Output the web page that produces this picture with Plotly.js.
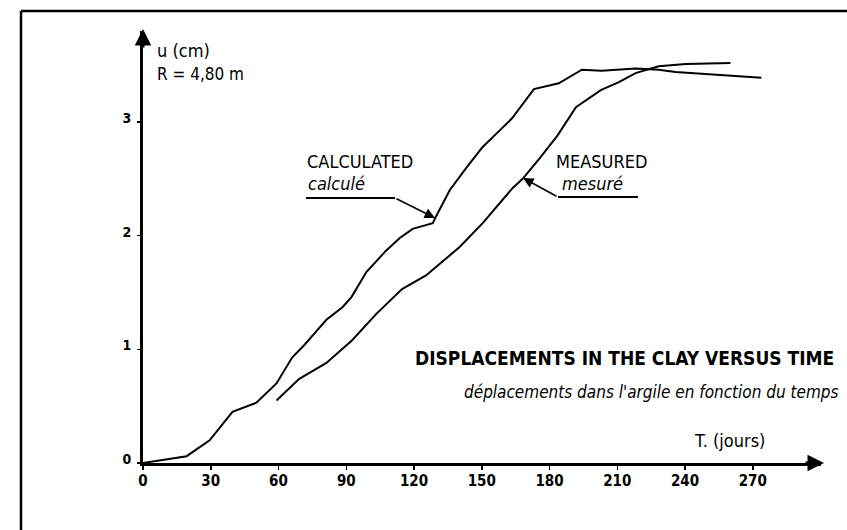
<!DOCTYPE html>
<html>
<head>
<meta charset="utf-8">
<script src="https://cdn.plot.ly/plotly-3.0.1.min.js"></script>
<style>html,body{margin:0;padding:0;background:#fff;}#chart{width:847px;height:530px;}</style>
</head>
<body>
<div id="chart"></div>
<script>
// ---- data ----
const calcDays = [0, 8.7, 19.3, 29.5, 39.6, 50.2, 59.1, 66.1, 70.6, 81.2, 88.3, 92.3, 98.9, 107.7, 113.7, 119.4, 128.3, 129.5, 135.8, 143.3, 150.4, 156.6, 163.3, 173.1, 184.1, 194.3, 203.1, 218.1, 228.3, 235.8, 260.5, 273.8];
const calcU    = [0, 0.03, 0.06, 0.20, 0.45, 0.53, 0.70, 0.93, 1.02, 1.26, 1.37, 1.46, 1.68, 1.87, 1.98, 2.06, 2.11, 2.16, 2.40, 2.60, 2.78, 2.90, 3.03, 3.29, 3.34, 3.46, 3.45, 3.47, 3.46, 3.44, 3.41, 3.39];
const measDays = [59.1, 69.2, 81.2, 92.6, 103.2, 114.7, 125.3, 128.3, 140.2, 150.4, 157.9, 163.7, 168.1, 175.6, 183.5, 191.7, 202.7, 210.7, 218.1, 228.3, 240.3, 260.1];
const measU    = [0.55, 0.74, 0.88, 1.08, 1.31, 1.53, 1.65, 1.70, 1.90, 2.11, 2.28, 2.42, 2.50, 2.68, 2.88, 3.13, 3.28, 3.35, 3.43, 3.49, 3.51, 3.52];
const xTicks = [0, 30, 60, 90, 120, 150, 180, 210, 240, 270];
const xTickLabels = ['0', '30', '60', '90', '120', '150', '180', '210', '240', '270'];
const yTicks = [0, 1, 2, 3];
const yTickLabels = ['0', '1', '2', '3'];

// ---- layout helpers (pixel -> paper) ----
const W = 847, H = 530, ML = 143, MR = 26, MT = 31, MB = 67;
const PW = W - ML - MR, PH = H - MT - MB;
const px = x => (x - ML) / PW;
const py = y => (H - MB - y) / PH;

const NARROW = 'DejaVu Sans Condensed, Liberation Sans Narrow, sans-serif';

const lineStyle = {color: '#000', width: 2};
const traces = [
  {x: calcDays, y: calcU, mode: 'lines', line: lineStyle, name: 'CALCULATED', hoverinfo: 'skip', cliponaxis: false},
  {x: measDays, y: measU, mode: 'lines', line: lineStyle, name: 'MEASURED', hoverinfo: 'skip', cliponaxis: false}
];

function txt(x, y, text, size, opts) {
  return Object.assign({xref: 'paper', yref: 'paper', x: px(x), y: py(y), text: text, showarrow: false,
    xanchor: 'left', yanchor: 'middle', font: {family: NARROW, size: size, color: '#000'}}, opts || {});
}

const annotations = [
  txt(155, 50, 'u (cm)', 18),
  txt(155, 74, 'R = 4,80 m', 17),
  txt(305, 161, 'CALCULATED', 18),
  txt(306, 184, '<i>calculé</i>', 18),
  txt(554, 161, 'MEASURED', 18),
  txt(560, 184, '<i>mesuré</i>', 18),
  txt(692, 440, 'T. (jours)', 18),
  txt(836, 358, '<b>DISPLACEMENTS IN THE CLAY VERSUS TIME</b>', 19, {xanchor: 'right'}),
  txt(841, 392, '<i>déplacements dans l\'argile en fonction du temps</i>', 17, {xanchor: 'right'}),
  // pointer arrows
  {xref: 'paper', yref: 'paper', x: px(435), y: py(218), ax: -40, ay: -20, text: '', showarrow: true,
   arrowhead: 2, arrowsize: 1.3, arrowwidth: 1.6, arrowcolor: '#000'},
  {xref: 'paper', yref: 'paper', x: px(523), y: py(178), ax: 35, ay: 19, text: '', showarrow: true,
   arrowhead: 2, arrowsize: 1.3, arrowwidth: 1.6, arrowcolor: '#000'},
  // axis arrow heads
  {xref: 'paper', yref: 'paper', x: px(824), y: py(463), ax: -20, ay: 0, text: '', showarrow: true,
   arrowhead: 2, arrowsize: 1.1, arrowwidth: 3, arrowcolor: '#000'},
  {xref: 'paper', yref: 'paper', x: px(143), y: py(29), ax: 0, ay: 20, text: '', showarrow: true,
   arrowhead: 2, arrowsize: 1.1, arrowwidth: 3, arrowcolor: '#000'}
];

const shapes = [
  // outer frame of the scanned figure (top and left edges visible)
  {type: 'line', xref: 'paper', yref: 'paper', x0: px(21), x1: px(847), y0: py(11), y1: py(11),
   line: {color: '#000', width: 2.5}},
  {type: 'line', xref: 'paper', yref: 'paper', x0: px(21), x1: px(21), y0: py(11), y1: py(530),
   line: {color: '#000', width: 2.5}},
  // underline of "calculé"
  {type: 'line', xref: 'paper', yref: 'paper', x0: px(306), x1: px(395), y0: py(198), y1: py(198),
   line: {color: '#000', width: 1.8}},
  // underline of "mesuré"
  {type: 'line', xref: 'paper', yref: 'paper', x0: px(558), x1: px(638), y0: py(197), y1: py(197),
   line: {color: '#000', width: 1.8}}
];

const layout = {
  width: W, height: H,
  margin: {l: ML, r: MR, t: MT, b: MB, pad: 0},
  paper_bgcolor: '#fff', plot_bgcolor: '#fff',
  showlegend: false,
  xaxis: {
    range: [0, PW / 2.2585], showgrid: false, zeroline: false,
    showline: true, linecolor: '#000', linewidth: 3,
    tickmode: 'array', tickvals: xTicks, ticktext: xTickLabels,
    ticks: 'outside', ticklen: 4, tickwidth: 1.5, tickcolor: '#000',
    ticklabelstandoff: -2,
    tickfont: {family: NARROW, size: 15, color: '#000', weight: 'bold'}
  },
  yaxis: {
    range: [0, PH / 113.67], showgrid: false, zeroline: false,
    showline: true, linecolor: '#000', linewidth: 3,
    tickmode: 'array', tickvals: yTicks, ticktext: yTickLabels,
    ticks: 'outside', ticklen: 3, tickwidth: 1.5, tickcolor: '#000',
    ticklabelstandoff: 3, ticklabelshift: -4,
    tickfont: {family: NARROW, size: 14, color: '#000', weight: 'bold'}
  },
  annotations: annotations,
  shapes: shapes
};

Plotly.newPlot('chart', traces, layout, {staticPlot: true, displayModeBar: false});
</script>
</body>
</html>
